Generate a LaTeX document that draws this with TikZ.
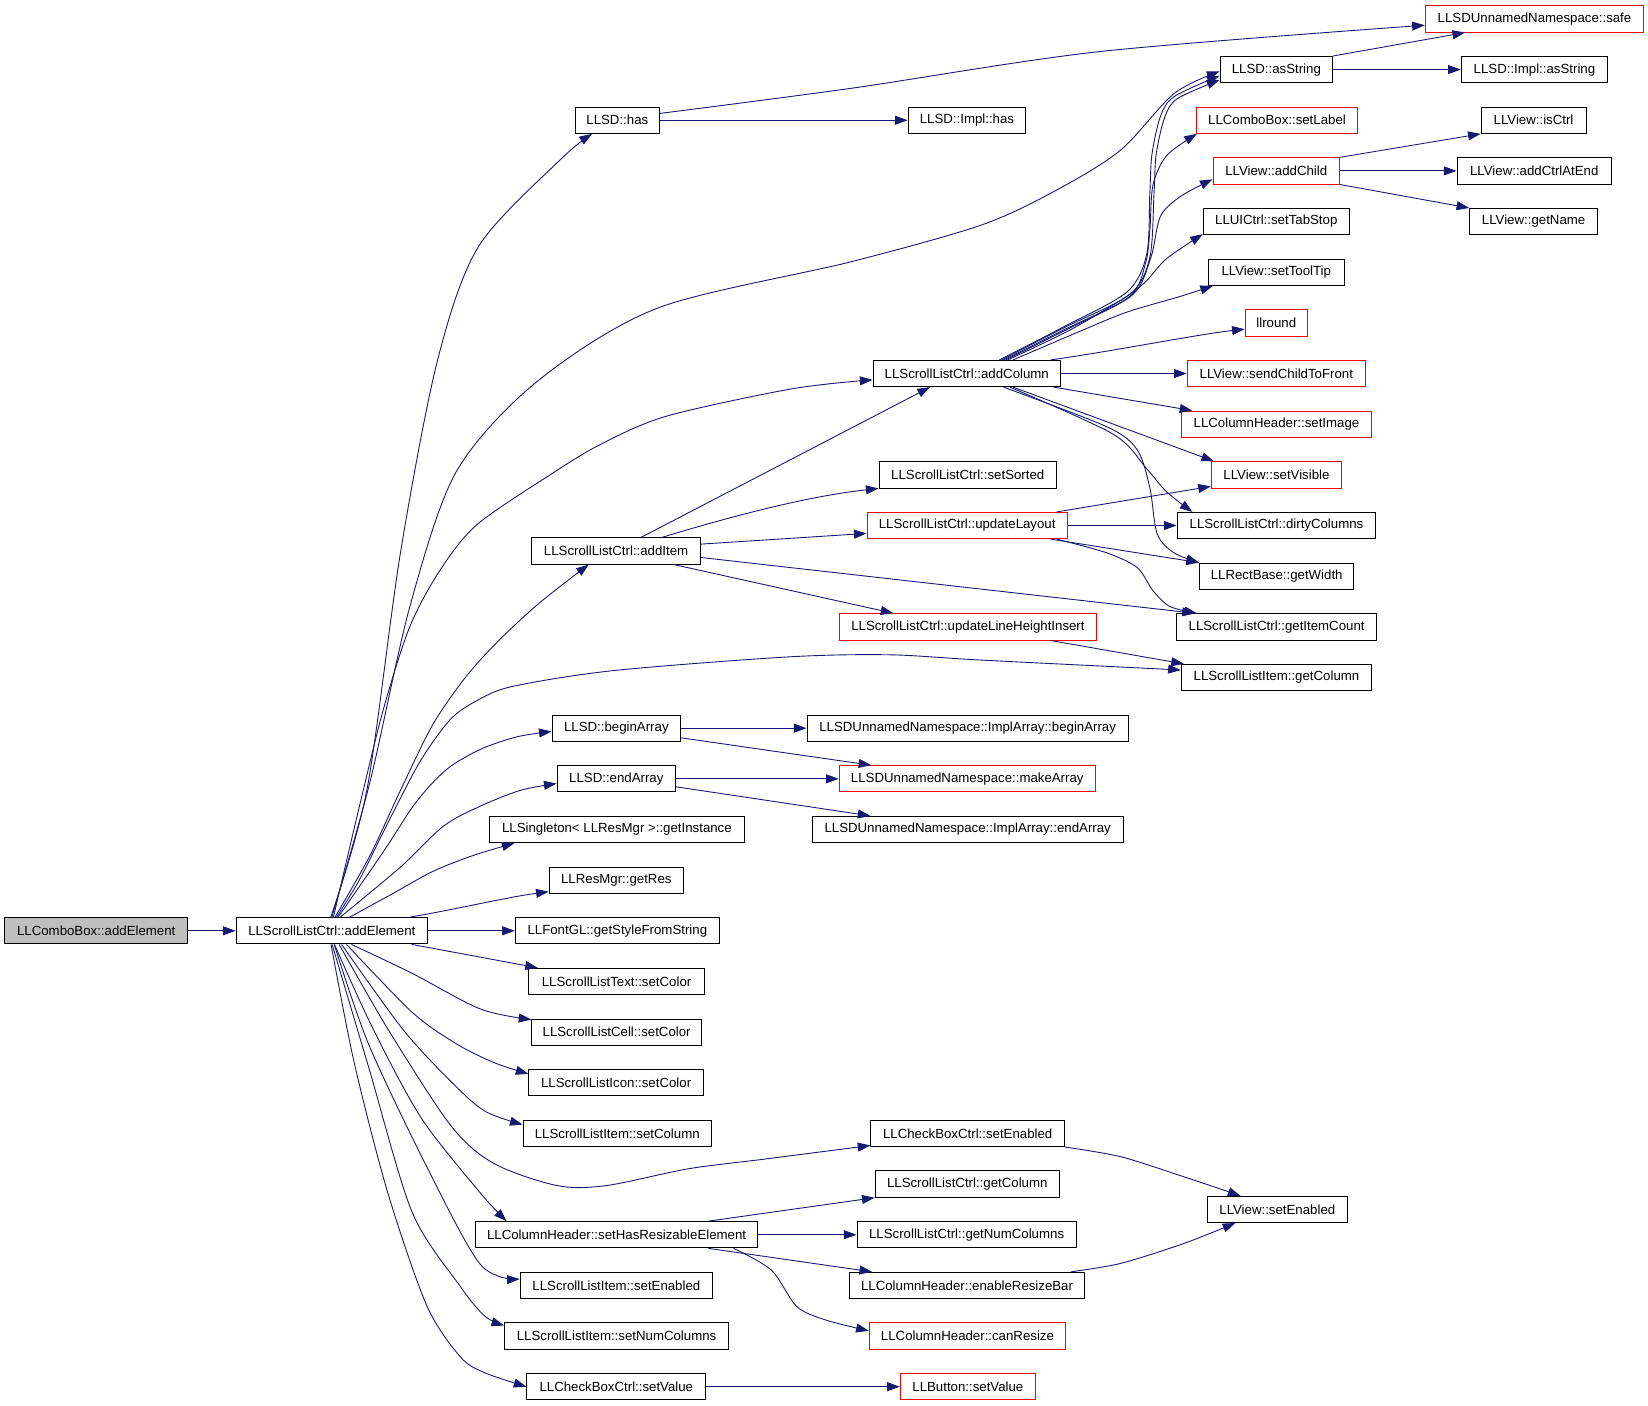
\documentclass[tikz,border=0pt]{standalone}
\usepackage{fontspec}
\newfontfamily\lsans{Liberation Sans}
\usetikzlibrary{arrows.meta}
\definecolor{edgecol}{RGB}{25,25,112}
\tikzset{
  gbox/.style={draw=black, line width=0.9pt, minimum height=25pt, inner sep=0pt,
    font=\lsans\fontsize{12.6}{15}\selectfont, text=black},
  callarrow/.style={draw=edgecol, line width=0.85pt, -{Triangle[length=12pt,width=8.5pt]}},
  sm/.style={smooth, tension=0.5}
}
\newcommand{\gnode}[6][]{%
  \node[gbox,#1,minimum width={((#4)-(#3))*1pt}] (#2) at ({((#3)+(#4))/2},{18+48.2*(#5)}) {#6};}
\begin{document}
\begin{tikzpicture}[x=1pt,y=-1pt]
\fill[white] (0,0) rectangle (1568,1336.8);
\useasboundingbox (0,0) rectangle (1568,1336.8);
% nodes
\gnode[fill=gray!50]{combo}{4.6}{178.5}{18}{LLComboBox::addElement}
\gnode{sae}{224.6}{406.8}{18}{LLScrollListCtrl::addElement}
\gnode{has}{547.2}{627.5}{2}{LLSD::has}
\gnode{implhas}{864}{976}{2}{LLSD::Impl::has}
\gnode[draw=red]{safe}{1356}{1564}{0}{LLSDUnnamedNamespace::safe}
\gnode{asString}{1160.8}{1268}{1}{LLSD::asString}
\gnode{implAsString}{1390.3}{1529.6}{1}{LLSD::Impl::asString}
\gnode[draw=red]{setLabel}{1138.2}{1291.8}{2}{LLComboBox::setLabel}
\gnode[draw=red]{addChild}{1154.1}{1274.5}{3}{LLView::addChild}
\gnode{isCtrl}{1409.2}{1509}{2}{LLView::isCtrl}
\gnode{addCtrlAtEnd}{1386.3}{1533.3}{3}{LLView::addCtrlAtEnd}
\gnode{getName}{1398.3}{1520}{4}{LLView::getName}
\gnode{setTabStop}{1144.8}{1283.8}{4}{LLUICtrl::setTabStop}
\gnode{setToolTip}{1149.5}{1279.2}{5}{LLView::setToolTip}
\gnode[draw=red]{llround}{1184.7}{1244}{6}{llround}
\gnode{addColumn}{830.6}{1009.1}{7}{LLScrollListCtrl::addColumn}
\gnode[draw=red]{sendChildToFront}{1129.5}{1299.2}{7}{LLView::sendChildToFront}
\gnode[draw=red]{setImage}{1123.9}{1305.1}{8}{LLColumnHeader::setImage}
\gnode{setSorted}{836.3}{1005.2}{9}{LLScrollListCtrl::setSorted}
\gnode[draw=red]{setVisible}{1152.5}{1276.5}{9}{LLView::setVisible}
\gnode[draw=red]{updateLayout}{825}{1015.5}{10}{LLScrollListCtrl::updateLayout}
\gnode{dirtyColumns}{1119.9}{1309.1}{10}{LLScrollListCtrl::dirtyColumns}
\gnode{addItem}{506}{666.4}{10.5}{LLScrollListCtrl::addItem}
\gnode{getWidth}{1141.2}{1288.2}{11}{LLRectBase::getWidth}
\gnode[draw=red]{uLHI}{798.4}{1043.5}{12}{LLScrollListCtrl::updateLineHeightInsert}
\gnode{getItemCount}{1119.2}{1310.1}{12}{LLScrollListCtrl::getItemCount}
\gnode{itemGetColumn}{1123.9}{1305.1}{13}{LLScrollListItem::getColumn}
\gnode{beginArray}{525.3}{647.6}{14}{LLSD::beginArray}
\gnode{implBeginArray}{767.8}{1073.6}{14}{LLSDUnnamedNamespace::ImplArray::beginArray}
\gnode{endArray}{530}{642.8}{15}{LLSD::endArray}
\gnode[draw=red]{makeArray}{798.4}{1042.2}{15}{LLSDUnnamedNamespace::makeArray}
\gnode{getInstance}{465.5}{708.4}{16}{LLSingleton< LLResMgr >::getInstance}
\gnode{implEndArray}{772.6}{1068.8}{16}{LLSDUnnamedNamespace::ImplArray::endArray}
\gnode{getRes}{522.5}{650.3}{17}{LLResMgr::getRes}
\gnode{getStyle}{490.3}{684.4}{18}{LLFontGL::getStyleFromString}
\gnode{textSetColor}{503.2}{670.1}{19}{LLScrollListText::setColor}
\gnode{cellSetColor}{506}{667.4}{20}{LLScrollListCell::setColor}
\gnode{iconSetColor}{503.2}{669.2}{21}{LLScrollListIcon::setColor}
\gnode{itemSetColumn}{497.6}{677}{22}{LLScrollListItem::setColumn}
\gnode{cbSetEnabled}{828.6}{1012.8}{22}{LLCheckBoxCtrl::setEnabled}
\gnode{ctrlGetColumn}{832.6}{1008}{23}{LLScrollListCtrl::getColumn}
\gnode{viewSetEnabled}{1148.6}{1282}{23.5}{LLView::setEnabled}
\gnode{setHRE}{452.4}{720.9}{24}{LLColumnHeader::setHasResizableElement}
\gnode{getNumColumns}{815.4}{1024}{24}{LLScrollListCtrl::getNumColumns}
\gnode{itemSetEnabled}{494.9}{678}{25}{LLScrollListItem::setEnabled}
\gnode{enableResizeBar}{808.2}{1032}{25}{LLColumnHeader::enableResizeBar}
\gnode{setNumColumns}{480.1}{693.2}{26}{LLScrollListItem::setNumColumns}
\gnode[draw=red]{canResize}{827}{1014}{26}{LLColumnHeader::canResize}
\gnode{cbSetValue}{501.3}{671.5}{27}{LLCheckBoxCtrl::setValue}
\gnode[draw=red]{btnSetValue}{856.6}{985.2}{27}{LLButton::setValue}
% straight edges
\draw[callarrow] (combo.east) -- (sae.west);
\draw[callarrow] (sae.east) -- (getStyle.west);
\draw[callarrow] (has.east) -- (implhas.west);
\draw[callarrow] (asString.east) -- (implAsString.west);
\draw[callarrow] (addChild.east) -- (addCtrlAtEnd.west);
\draw[callarrow] (addChild.north east) -- (isCtrl.south west);
\draw[callarrow] (addChild.south east) -- (getName.north west);
\draw[callarrow] (asString.north east) -- ([xshift=-66pt]safe.south);
\draw[callarrow] (addColumn.east) -- (sendChildToFront.west);
\draw[callarrow] ([xshift=-7pt]addColumn.south east) -- ([xshift=11pt]setImage.north west);
\draw[callarrow] ([xshift=44pt]addColumn.south) -- ([xshift=3pt]setVisible.north west);
\draw[callarrow] ([xshift=-10pt]addColumn.north east) .. controls (1060,334) and (1140,318) .. ([yshift=-6pt]llround.west);
\draw[callarrow] ([xshift=-10.5pt]updateLayout.north east) -- ([yshift=-11pt]setVisible.west);
\draw[callarrow] (updateLayout.east) -- (dirtyColumns.west);
\draw[callarrow] ([xshift=-16.5pt]updateLayout.south east) -- (getWidth.north west);
\draw[callarrow] ([xshift=24pt]addItem.north) -- ([xshift=-35pt]addColumn.south);
\draw[callarrow] ([xshift=44pt]addItem.north) .. controls (700,490) and (770,472) .. (setSorted.south west);
\draw[callarrow] ([yshift=6.4pt]addItem.east) -- ([yshift=-7.5pt]updateLayout.west);
\draw[callarrow] ([yshift=-6.3pt]addItem.east) -- ([xshift=18pt]getItemCount.north west);
\draw[callarrow] ([xshift=54.5pt]addItem.south) -- ([xshift=-71pt]uLHI.north);
\draw[callarrow] ([xshift=-44.5pt]uLHI.south east) -- ([xshift=3pt]itemGetColumn.north west);
\draw[callarrow] (beginArray.east) -- (implBeginArray.west);
\draw[callarrow] ([yshift=-9.2pt]beginArray.east) -- ([xshift=31pt]makeArray.north west);
\draw[callarrow] (endArray.east) -- (makeArray.west);
\draw[callarrow] ([yshift=-7.6pt]endArray.east) -- ([xshift=56pt]implEndArray.north west);
\draw[callarrow] ([xshift=74pt]sae.north) .. controls (440,864) and (480,854) .. ([yshift=-11pt]getRes.west);
\draw[callarrow] ([xshift=76pt]sae.south) -- ([xshift=9pt]textSetColor.north west);
\draw[callarrow] ([xshift=87.4pt]setHRE.north) -- (ctrlGetColumn.south west);
\draw[callarrow] (setHRE.east) -- (getNumColumns.west);
\draw[callarrow] ([xshift=87.4pt]setHRE.south) -- ([xshift=22pt]enableResizeBar.north west);
\draw[callarrow] (cbSetValue.east) -- (btnSetValue.west);
% curved edges
\draw[callarrow] plot[sm] coordinates {([yshift=6.5pt]has.east) (810,84) (1047,49) ([yshift=-6pt]safe.west)};
\draw[callarrow] plot[sm] coordinates {([xshift=-1pt]sae.north) (349,752) (381,526) (416,344) (455,235) (533,152) ([xshift=-24pt]has.south)};
\draw[callarrow] plot[sm] coordinates {(sae.north) (352,744) (390,577) (434,449) (511,363) (626,293) (810,249) (934,214) (1005,181) (1066,143) (1117,89) ([yshift=-1.8pt]asString.west)};
\draw[callarrow] plot[sm] coordinates {([xshift=1.5pt]sae.north) (342,767) (365,674) (390,596) (419,542) (454,499) (523,452) (571,423) (634,396) (753,370) ([yshift=-6pt]addColumn.west)};
\draw[callarrow] plot[sm] coordinates {([xshift=3pt]sae.north) (352,814) (381,752) (412,689) (444,643) (476,608) (514,573) ([xshift=-26pt]addItem.south)};
\draw[callarrow] plot[sm] coordinates {([xshift=4.5pt]sae.north) (342,837) (371,779) (400,724) (428,685) (453,667) (488,653) (584,638) (750,625) (846,623) (933,628) (1094,636) ([yshift=7pt]itemGetColumn.west)};
\draw[callarrow] plot[sm] coordinates {([xshift=6pt]sae.north) (365,810) (396,763) (425,732) (457,713) (492,701) ([yshift=-3.2pt]beginArray.west)};
\draw[callarrow] plot[sm] coordinates {([xshift=8pt]sae.north) (381,825) (422,786) (457,767) (495,752) ([yshift=-4.5pt]endArray.west)};
\draw[callarrow] plot[sm] coordinates {([xshift=17pt]sae.north) (374,850) (412,829) (450,814) ([xshift=24.5pt]getInstance.south west)};
\draw[callarrow] plot[sm] coordinates {([xshift=18.7pt]sae.south) (392,926) (457,960) ([yshift=-1pt]cellSetColor.north west)};
\draw[callarrow] plot[sm] coordinates {([xshift=14pt]sae.south) (392,963) (434,993) (470,1011) ([yshift=8.5pt]iconSetColor.west)};
\draw[callarrow] plot[sm] coordinates {([xshift=9.3pt]sae.south) (383,979) (429,1029) (461,1057) ([yshift=8.4pt]itemSetColumn.west)};
\draw[callarrow] plot[sm] coordinates {([xshift=7pt]sae.south) (369,979) (429,1071) (470,1107) (530,1128) (577,1128) (655,1112) (726,1103) ([yshift=1.5pt]cbSetEnabled.south west)};
\draw[callarrow] plot[sm] coordinates {([xshift=2.5pt]sae.south) (355,979) (401,1064) (457,1135) ([xshift=30pt]setHRE.north west)};
\draw[callarrow] plot[sm] coordinates {([xshift=2.3pt]sae.south) (350.5,993) (406,1110) (457,1203) ([yshift=6pt]itemSetEnabled.west)};
\draw[callarrow] plot[sm] coordinates {([xshift=0.3pt]sae.south) (350.5,1014.5) (392,1153) (438,1224) (461,1252) ([yshift=10pt]setNumColumns.west)};
\draw[callarrow] plot[sm] coordinates {([xshift=-0.7pt]sae.south) (337,1011) (369,1135) (406,1242) (438,1291) (461,1306) (cbSetValue.west)};
% addColumn fan
\draw[callarrow] plot[sm] coordinates {([xshift=31pt]addColumn.north) (1010,312) (1072,278) (1091,242) (1094,184) (1096,147) (1104,111) (1117,92) ([yshift=-5.8pt]asString.west)};
\draw[callarrow] plot[sm] coordinates {([xshift=33pt]addColumn.north) (1012,312) (1075,280) (1094,245) (1098,184) (1100,147) (1108,112) (1120,94) ([yshift=-9.8pt]asString.west)};
\draw[callarrow] plot[sm] coordinates {([xshift=35pt]addColumn.north) (1014,313) (1075,282) (1090,250) (1094,220) (1097,176) (1110,148) ([xshift=1pt]setLabel.south west)};
\draw[callarrow] plot[sm] coordinates {([xshift=37pt]addColumn.north) (1016,313) (1077,281) (1095,245) (1104,206) (1123,187) ([yshift=-8pt]addChild.west)};
\draw[callarrow] plot[sm] coordinates {([xshift=39pt]addColumn.north) (1018,314) (1072,282) (1091,267) (1110,246) ([yshift=1pt]setTabStop.south west)};
\draw[callarrow] plot[sm] coordinates {([xshift=44pt]addColumn.north) (1028,315) (1072,297) (1123,282) ([xshift=5pt]setToolTip.south west)};
\draw[callarrow] plot[sm] coordinates {([xshift=41pt]addColumn.south) (1059,413) (1091,446) (1110,468) ([xshift=15pt]dirtyColumns.north west)};
\draw[callarrow] plot[sm] coordinates {([xshift=35pt]addColumn.south) (1053,406) (1082,428) (1094,464) (1101,508) (1117,526) (getWidth.north west)};
\draw[callarrow] plot[sm] coordinates {([xshift=-10.5pt]updateLayout.south east) (1053,526) (1082,540) (1097,562) (1113,577) ([xshift=20pt]getItemCount.north west)};
% bottom right
\draw[callarrow] plot[sm] coordinates {([xshift=111.4pt]setHRE.south) (734,1208.5) (758,1243) (786,1256) ([yshift=5pt]canResize.west)};
\draw[callarrow] plot[sm] coordinates {(cbSetEnabled.south east) (1066.5,1100.6) (1126.6,1119.7) ([xshift=-35pt]viewSetEnabled.north)};
\draw[callarrow] plot[sm] coordinates {([xshift=-13.6pt]enableResizeBar.north east) (1066.5,1202) (1126.6,1183) ([xshift=-40pt]viewSetEnabled.south)};
\end{tikzpicture}
\end{document}
